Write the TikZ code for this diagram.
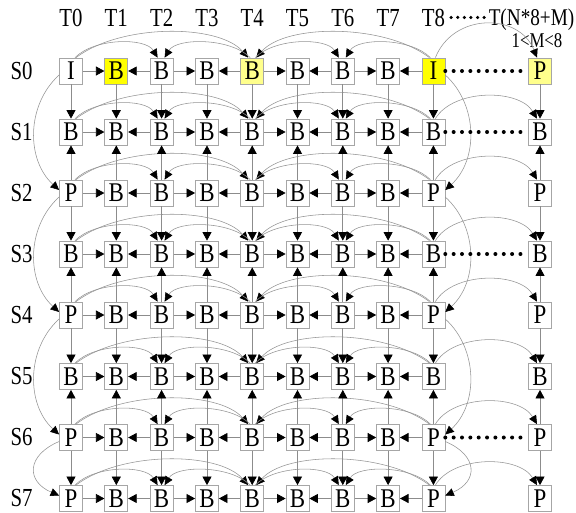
\documentclass[tikz,border=0pt]{standalone}
\usepackage{fontspec}
\usetikzlibrary{arrows.meta}
\newfontfamily\labfont[FakeStretch=0.8]{Liberation Serif}
\newfontfamily\boxfont[FakeStretch=0.85]{Liberation Serif}
\definecolor{edgegray}{HTML}{A6A6A6}
\definecolor{linkgray}{HTML}{8C8C8C}
\definecolor{arcgray}{HTML}{939393}
\definecolor{hiyellow}{HTML}{FFFF00}
\definecolor{paleyellow}{HTML}{FFFF8C}
\tikzset{
  frame/.style={draw=edgegray, line width=0.8pt, fill=white,
    minimum width=23pt, minimum height=26pt, inner sep=0pt,
    font=\boxfont\fontsize{27}{27}\selectfont},
  lab/.style={inner sep=0pt, font=\labfont\fontsize{26}{26}\selectfont},
  sublab/.style={inner sep=0pt, font=\labfont\fontsize{21}{21}\selectfont},
  link/.style={draw=linkgray, line width=0.7pt,
    -{Triangle[length=8.5pt,width=9pt,color=black]}},
  curvelink/.style={draw=arcgray, line width=0.55pt,
    -{Triangle[length=8.5pt,width=8pt,color=black]}},
  dotline/.style={draw=black, line width=4pt, line cap=round,
    dash pattern=on 0pt off 8.35pt},
  hdots/.style={draw=black, line width=3.5pt, line cap=round,
    dash pattern=on 0pt off 6.6pt},
  cell 0-1/.style={fill=hiyellow},
  cell 0-4/.style={fill=paleyellow},
  cell 0-8/.style={fill=hiyellow},
  cell 0-9/.style={fill=paleyellow},
}
\begin{document}
\begin{tikzpicture}[x=1pt,y=-1pt]
\useasboundingbox (0,0) rectangle (576,512);

% column headings
\foreach \c/\x in {0/71,1/116.3,2/161.6,3/207,4/252.2,5/297.5,6/342.8,7/388.1,8/433.4}
  \node[lab, anchor=base] (t\c) at (\x,26) {T\c};
\node[lab, font=\labfont\fontsize{24}{24}\selectfont, anchor=base] (tn) at (531.5,25) {T(N*8+M)};
\node[sublab, anchor=base] (tm) at (537,47) {1<M<8};
\path (t8.east -| tn.west) coordinate (hd);
\draw[hdots] ([xshift=6pt]t8.east) -- ([xshift=-3pt]hd);

% frame grid: first, ninth and last letter of each row, the rest are B
\foreach \r/\y/\fa/\fb/\fc in {0/71/I/I/P, 1/132/B/B/B, 2/193/P/P/P, 3/254/B/B/B,
    4/315/P/P/P, 5/376.5/B/B/B, 6/437.5/P/P/P, 7/498.5/P/P/P} {
  \node[lab] (s\r) at (21.5,\y) {S\r};
  \foreach \c/\x in {0/71,1/116.3,2/161.6,3/207,4/252.2,5/297.5,6/342.8,7/388.1,8/433.4,9/540} {
    \ifnum\c=0 \def\t{\fa}\else\ifnum\c=8 \def\t{\fb}\else\ifnum\c=9 \def\t{\fc}\else\def\t{B}\fi\fi\fi
    \node[frame, cell \r-\c/.try] (n\r-\c) at (\x,\y) {\t};
  }
}

% references inside each row
\foreach \r in {0,...,7} {
  \foreach \a/\b in {0/1,2/1,2/3,4/3,4/5,6/5,6/7,8/7}
    \draw[link] (n\r-\a) -- (n\r-\b);
  \draw[curvelink] ([xshift=4pt]n\r-0.north) .. controls +(20pt,20pt) and +(-12pt,20pt) .. ([xshift=-4pt]n\r-2.north);
  \draw[curvelink] ([xshift=5pt]n\r-0.north) .. controls +(45pt,34pt) and +(-30pt,34pt) .. ([xshift=-4pt]n\r-4.north);
  \draw[curvelink] ([xshift=-2pt]n\r-4.north) .. controls +(-20pt,20pt) and +(12pt,20pt) .. ([xshift=3pt]n\r-2.north);
  \draw[curvelink] ([xshift=-4pt]n\r-8.north) .. controls +(-45pt,34pt) and +(30pt,34pt) .. ([xshift=4pt]n\r-4.north);
  \draw[curvelink] ([xshift=3pt]n\r-4.north) .. controls +(20pt,20pt) and +(-12pt,20pt) .. ([xshift=-4pt]n\r-6.north);
  \draw[curvelink] ([xshift=-3pt]n\r-8.north) .. controls +(-20pt,20pt) and +(12pt,20pt) .. ([xshift=3pt]n\r-6.north);
}

% references to the last column
\foreach \r/\h in {0/45pt,1/30pt,2/30pt,3/30pt,4/30pt,5/30pt,6/30pt,7/30pt}
  \draw[curvelink] ([xshift=2pt]n\r-8.north) .. controls +(18pt,\h) and +(-18pt,\h) .. ([xshift=-3pt]n\r-9.north);

% references between rows
\foreach \a/\b in {0/1,2/1,2/3,4/3,4/5,6/5,6/7}
  \foreach \c in {0,...,9}
    \draw[link] (n\a-\c) -- (n\b-\c);

% long references down the first and ninth columns
\foreach \a/\b/\h in {0/2/30pt, 2/4/30pt, 4/6/30pt, 6/7/14pt} {
  \draw[curvelink] ([yshift=-4pt]n\a-0.west) .. controls +(-33pt,-\h) and +(-33pt,\h) .. ([yshift=3pt]n\b-0.west);
  \draw[curvelink] ([yshift=-4pt]n\a-8.east) .. controls +(33pt,-\h) and +(33pt,\h) .. ([yshift=3pt]n\b-8.east);
}

% continuation to the last column
\foreach \r in {0,1,3,6}
  \draw[dotline] (n\r-8.east) -- (n\r-9.west);
\end{tikzpicture}
\end{document}
